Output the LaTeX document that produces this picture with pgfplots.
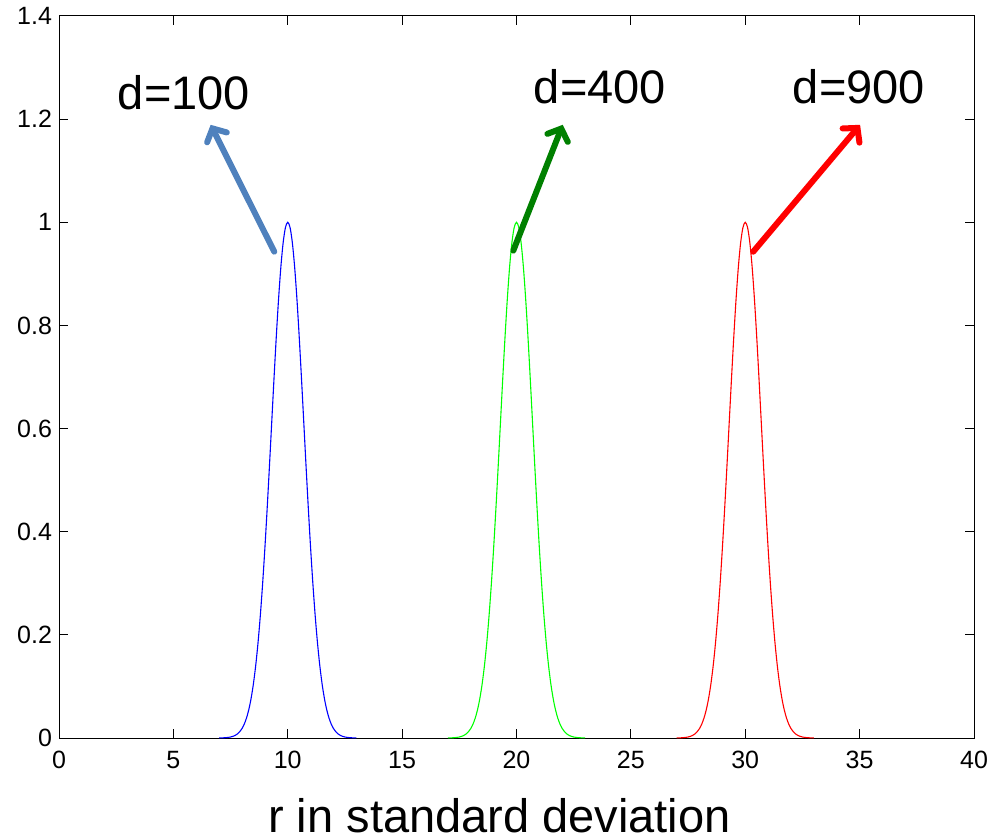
\documentclass[border=0pt]{standalone}
\usepackage{fontspec}
\setmainfont{Liberation Sans}
\usepackage{pgfplots}
\usepackage{pgfplotstable}
\pgfplotsset{compat=1.18}
\usetikzlibrary{arrows.meta}
\definecolor{arrblue}{RGB}{79,129,189}
\definecolor{arrgreen}{RGB}{0,128,0}
\pgfplotstableread{
xa xb xc y
7.0 17.0 27.0 0.00012
7.1 17.1 27.1 0.00022
7.2 17.2 27.2 0.00039
7.3 17.3 27.3 0.00068
7.4 17.4 27.4 0.00116
7.5 17.5 27.5 0.00193
7.6 17.6 27.6 0.00315
7.7 17.7 27.7 0.00504
7.8 17.8 27.8 0.00791
7.9 17.9 27.9 0.01215
8.0 18.0 28.0 0.01832
8.1 18.1 28.1 0.02705
8.2 18.2 28.2 0.03916
8.3 18.3 28.3 0.05558
8.4 18.4 28.4 0.07730
8.5 18.5 28.5 0.10540
8.6 18.6 28.6 0.14086
8.7 18.7 28.7 0.18452
8.8 18.8 28.8 0.23693
8.9 18.9 28.9 0.29820
9.0 19.0 29.0 0.36788
9.1 19.1 29.1 0.44486
9.2 19.2 29.2 0.52729
9.3 19.3 29.3 0.61263
9.4 19.4 29.4 0.69768
9.5 19.5 29.5 0.77880
9.6 19.6 29.6 0.85214
9.7 19.7 29.7 0.91393
9.8 19.8 29.8 0.96079
9.9 19.9 29.9 0.99005
10.0 20.0 30.0 1.00000
10.1 20.1 30.1 0.99005
10.2 20.2 30.2 0.96079
10.3 20.3 30.3 0.91393
10.4 20.4 30.4 0.85214
10.5 20.5 30.5 0.77880
10.6 20.6 30.6 0.69768
10.7 20.7 30.7 0.61263
10.8 20.8 30.8 0.52729
10.9 20.9 30.9 0.44486
11.0 21.0 31.0 0.36788
11.1 21.1 31.1 0.29820
11.2 21.2 31.2 0.23693
11.3 21.3 31.3 0.18452
11.4 21.4 31.4 0.14086
11.5 21.5 31.5 0.10540
11.6 21.6 31.6 0.07730
11.7 21.7 31.7 0.05558
11.8 21.8 31.8 0.03916
11.9 21.9 31.9 0.02705
12.0 22.0 32.0 0.01832
12.1 22.1 32.1 0.01215
12.2 22.2 32.2 0.00791
12.3 22.3 32.3 0.00504
12.4 22.4 32.4 0.00315
12.5 22.5 32.5 0.00193
12.6 22.6 32.6 0.00116
12.7 22.7 32.7 0.00068
12.8 22.8 32.8 0.00039
12.9 22.9 32.9 0.00022
13.0 23.0 33.0 0.00012
}\peaks
\begin{document}
\begin{tikzpicture}
\begin{axis}[
  scale only axis,
  width=457.5pt, height=361pt,
  xmin=0, xmax=40, ymin=0, ymax=1.4,
  xtick={0,5,...,40},
  ytick={0,0.2,0.4,0.6,0.8,1,1.2,1.4},
  tick align=inside,
  major tick length=4.3pt,
  tick style={black, line width=0.5pt},
  axis line style={black, line width=0.5pt},
  /pgf/number format/assume math mode=true,
  tick label style={font=\fontsize{12.5}{14}\selectfont},
  yticklabel style={xshift=0pt},
  xticklabel style={yshift=-3pt},
  xlabel={r in standard deviation},
  xlabel style={font=\fontsize{23.5}{28}\selectfont, at={(axis description cs:0.5,0)}, anchor=base, yshift=-47pt, xshift=-8.5pt},
  clip=false,
]
\addplot[blue, line width=0.55pt, smooth] table[x=xa, y=y] {\peaks};
\addplot[green, line width=0.55pt, smooth] table[x=xb, y=y] {\peaks};
\addplot[red, line width=0.55pt, smooth] table[x=xc, y=y] {\peaks};

\draw[arrblue, line width=3pt, line cap=round, -{Straight Barb[length=5pt,width=11pt,line cap=round]}] (axis cs:9.41,0.943) -- (axis cs:6.63,1.189);
\draw[arrgreen, line width=3pt, line cap=round, -{Straight Barb[length=5pt,width=11pt,line cap=round]}] (axis cs:19.86,0.945) -- (axis cs:22.02,1.189);
\draw[red, line width=3pt, line cap=round, -{Straight Barb[length=5pt,width=11pt,line cap=round]}] (axis cs:30.35,0.943) -- (axis cs:35.02,1.189);

\node[anchor=base, inner sep=0pt, font=\fontsize{23.5}{28}\selectfont] at (axis cs:5.46,1.218) {d=100};
\node[anchor=base, inner sep=0pt, font=\fontsize{23.5}{28}\selectfont] at (axis cs:23.65,1.231) {d=400};
\node[anchor=base, inner sep=0pt, font=\fontsize{23.5}{28}\selectfont] at (axis cs:34.97,1.231) {d=900};

\coordinate (SW) at (rel axis cs:0,0);
\coordinate (NE) at (rel axis cs:1,1);
\end{axis}
\pgfresetboundingbox
\path[use as bounding box] ([xshift=-29.5pt,yshift=-51pt]SW) rectangle ([xshift=8pt,yshift=8pt]NE);
\end{tikzpicture}
\end{document}
